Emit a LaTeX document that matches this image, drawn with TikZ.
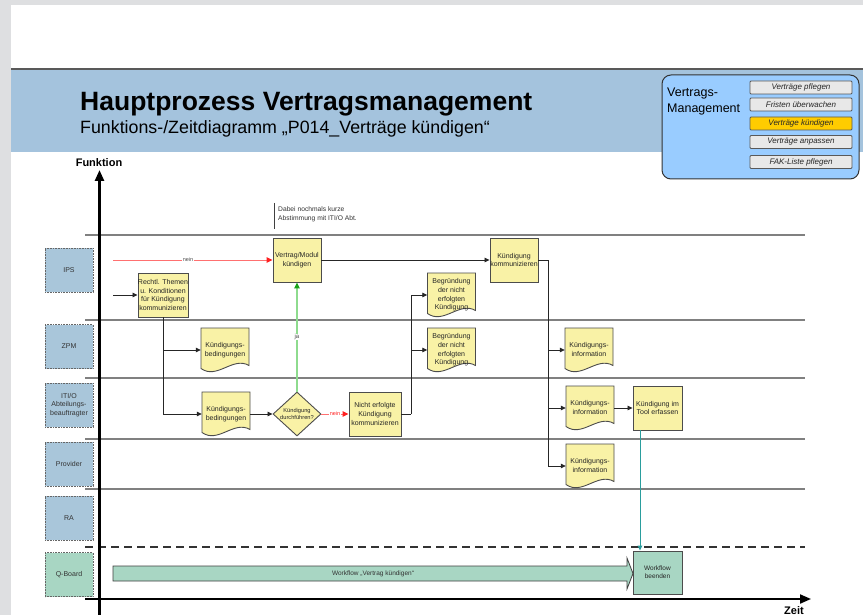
\documentclass[tikz,border=0pt]{standalone}
\usepackage{fontspec}
\setmainfont{Liberation Sans}
\usetikzlibrary{arrows.meta,shapes.geometric,calc}

\definecolor{pagegrey}{HTML}{DEDFE1}
\definecolor{bandblue}{HTML}{A4C3DD}
\definecolor{menublue}{HTML}{99CCFF}
\definecolor{btngrey}{HTML}{E8E8E8}
\definecolor{btngold}{HTML}{FFCC00}
\definecolor{lanefill}{HTML}{A9C6DA}
\definecolor{mint}{HTML}{A8D6C3}
\definecolor{procfill}{HTML}{F9F2A6}
\definecolor{rulegrey}{HTML}{808080}
\definecolor{nogo}{HTML}{FF2020}
\definecolor{nogoline}{HTML}{FF7070}
\definecolor{golight}{HTML}{8EDB8E}
\definecolor{godark}{HTML}{19A319}
\definecolor{tealline}{HTML}{2A9D9D}

\newcommand\fsz[2]{\fontsize{#1}{#2}\selectfont}

% document symbol: rectangle with a wavy lower edge, text sits slightly high
\newcommand\docnode[4]{%
  \draw[docshape,shift={(#2,#3)}] (-24,-22) -- (24,-22) -- (24,15.5)
    .. controls (8,6) and (-8,30) .. (-24,18.5) -- cycle;
  \node[doctext] (#1) at (#2,#3)
    {\raisebox{3pt}{\begin{tabular}{@{}c@{}}#4\end{tabular}}};}

\begin{document}
\begin{tikzpicture}[x=1pt,y=-1pt,font=\fsz{7}{8.8},
  proc/.style={draw=black!70,fill=procfill,line width=0.9pt,minimum width=48,
    minimum height=44,inner sep=0,align=center,text=black!85},
  docshape/.style={draw=black!70,fill=procfill,line width=0.9pt},
  doctext/.style={minimum width=48,minimum height=44,inner sep=0,text=black!85},
  decision/.style={diamond,draw=black!70,fill=procfill,line width=0.9pt,
    minimum width=48,minimum height=44,inner sep=0,aspect=1.1,align=center,
    font=\fsz{5.7}{7},text=black!85},
  lanebox/.style={draw=black!60,dash pattern=on 0.8pt off 0.8pt,fill=lanefill,
    line width=0.8pt,minimum width=48,minimum height=44,inner sep=0,
    align=center,text=black!80},
  btn/.style={draw=black!65,fill=btngrey,line width=0.8pt,minimum width=102,
    minimum height=13,inner sep=0,rounded corners=1pt,
    font=\fsz{8}{9}\itshape,text=black!85},
  laneline/.style={draw=rulegrey,line width=1.3pt},
  axis/.style={draw=black,-{Triangle[length=11pt,width=9pt]}},
  line/.style={draw=black!85,line width=0.8pt},
  flow/.style={line,-{Triangle[length=5pt,width=4.5pt]}},
  noflow/.style={draw=nogoline,line width=1pt,
    -{Triangle[length=6pt,width=5.5pt,color=nogo]}},
  yesflow/.style={draw=golight,line width=1.3pt,
    -{Triangle[length=6pt,width=5.5pt,color=godark]}},
  sysflow/.style={draw=tealline,line width=0.9pt,
    -{Triangle[length=5pt,width=4.5pt,color=tealline]}},
  lbl/.style={fill=white,inner sep=0.6pt,font=\fsz{5.5}{6},text=black!70}]

\useasboundingbox (0,0) rectangle (863,615);

% page and header band
\fill[pagegrey] (0,0) rectangle (863,615);
\fill[white] (11,5) rectangle (863,615);
\fill[bandblue] (11,69) rectangle (863,152);
\draw[black!65,line width=1.5pt] (11,69) -- (863,69);

\node[anchor=base west,inner sep=0,font=\fsz{26.5}{30}\bfseries] (title)
  at (80,111) {Hauptprozess Vertragsmanagement};
\node[anchor=base west,inner sep=0,font=\fsz{17.8}{20}] (subtitle)
  at (80,133.5) {Funktions-/Zeitdiagramm „P014\_Verträge kündigen“};

% process menu
\node[draw=black!80,fill=menublue,rounded corners=9pt,line width=1pt,
  minimum width=197,minimum height=104,inner sep=0] (menu) at (760.5,127) {};
\node[anchor=north west,inner sep=0,align=left,font=\fsz{12.5}{16}] (menutitle)
  at (667,88) {Vertrags-\\Management};
\node[btn] (b1) at (801,87.5) {Verträge pflegen};
\node[btn] (b2) at (801,104.5) {Fristen überwachen};
\node[btn,fill=btngold] (b3) at (801,123.5) {Verträge kündigen};
\node[btn] (b4) at (801,142) {Verträge anpassen};
\node[btn] (b5) at (801,162) {FAK-Liste pflegen};

% swimlane separators
\draw[laneline] (85,235) -- (805,235);
\draw[laneline] (85,320) -- (805,320);
\draw[laneline] (85,378) -- (805,378);
\draw[laneline] (85,439) -- (805,439);
\draw[laneline] (85,489) -- (805,489);
\draw[draw=black!80,line width=1.2pt,dash pattern=on 8pt off 5pt] (85,547) -- (805,547);

% axes
\draw[axis,line width=2.5pt] (99.5,615) -- (99.5,170);
\draw[axis,line width=2pt] (85,599) -- (811,599);
\node[anchor=base,inner sep=0,font=\fsz{11}{13}\bfseries] (funktion) at (99,167) {Funktion};
\node[anchor=base west,inner sep=0,font=\fsz{11}{13}\bfseries] (zeit) at (784,614) {Zeit};

% lane labels
\node[lanebox] (l-ips) at (69,270) {IPS};
\node[lanebox] (l-zpm) at (69,346.5) {ZPM};
\node[lanebox] (l-iti) at (69,405) {ITI/O\\Abteilungs-\\beauftragter};
\node[lanebox] (l-prov) at (69,464) {Provider};
\node[lanebox] (l-ra) at (69,518) {RA};
\node[lanebox,fill=mint] (l-qb) at (69,574.5) {Q-Board};

% annotation
\draw[black!75,line width=0.8pt] (274,203) -- (274,229);
\node[anchor=north west,inner sep=0,align=left,font=\fsz{6.7}{9},text=black!80] (note)
  at (278,206.5) {Dabei nochmals kurze\\Abstimmung mit ITI/O Abt.};

% activities
\node[proc] (rechtl) at (163,295) {Rechtl. Themen\\u. Konditionen\\für Kündigung\\kommunizieren};
\node[proc] (vertrag) at (297,260) {Vertrag/Modul\\kündigen};
\node[proc] (komm) at (514,260) {Kündigung\\kommunizieren};
\node[decision] (dec) at (297,414) {Kündigung\\durchführen?};
\node[proc,minimum width=52] (nicht) at (375,414) {Nicht erfolgte\\Kündigung\\kommunizieren};
\node[proc,minimum width=49] (tool) at (657.5,408) {Kündigung im\\Tool erfassen};

% documents
\docnode{bed1}{225}{350}{Kündigungs-\\bedingungen}
\docnode{bed2}{226}{414}{Kündigungs-\\bedingungen}
\docnode{begr1}{451.5}{295}{Begründung\\der nicht\\erfolgten\\Kündigung}
\docnode{begr2}{451.5}{350}{Begründung\\der nicht\\erfolgten\\Kündigung}
\docnode{info1}{589}{350}{Kündigungs-\\information}
\docnode{info2}{590}{408}{Kündigungs-\\information}
\docnode{info3}{590}{466}{Kündigungs-\\information}

% workflow bar in the Q-Board lane
\draw[draw=black!75,fill=mint,line width=0.8pt] (113,566) -- (627,566) -- (627,558)
  -- (633,573.5) -- (627,589) -- (627,581) -- (113,581) -- cycle;
\node[font=\fsz{6.5}{8},text=black!80] (wftext) at (373,573.5) {Workflow „Vertrag kündigen“};
\node[proc,fill=mint,minimum width=49,minimum height=43,font=\fsz{6.5}{8}] (wfend)
  at (657.5,572.5) {Workflow\\beenden};

% connectors
\coordinate (neinstart) at (113,260);
\coordinate (instart) at (113,295);
\draw[noflow] (neinstart) -- node[lbl,pos=0.47] {nein} (vertrag.west);
\draw[flow] (instart) -- (rechtl.west);
\draw[flow] (rechtl.south) |- (bed1.west);
\draw[flow] (rechtl.south) |- (bed2.west);
\draw[flow] (bed2.east) -- (dec.west);
\draw[yesflow] (dec.north) -- node[lbl,font=\fsz{6}{7}] {ja} (vertrag.south);
\draw[noflow] (dec.east) -- node[lbl,text=nogo] {nein} (nicht.west);
\coordinate (split1) at ($(nicht.east)+(10,0)$);
\draw[line] (nicht.east) -- (split1);
\draw[flow] (split1) |- (begr1.west);
\draw[flow] (split1) |- (begr2.west);
\draw[flow] (vertrag.east) -- (komm.west);
\coordinate (split2) at ($(komm.east)+(10,0)$);
\draw[line] (komm.east) -- (split2);
\draw[flow] (split2) |- (info1.west);
\draw[flow] (split2) |- (info2.west);
\draw[flow] (split2) |- (info3.west);
\draw[flow] (info2.east) -- (tool.west);
\draw[sysflow] ([xshift=-17.5pt]tool.south) -- ([xshift=-17.5pt]tool.south |- wfend.north);

\end{tikzpicture}
\end{document}
